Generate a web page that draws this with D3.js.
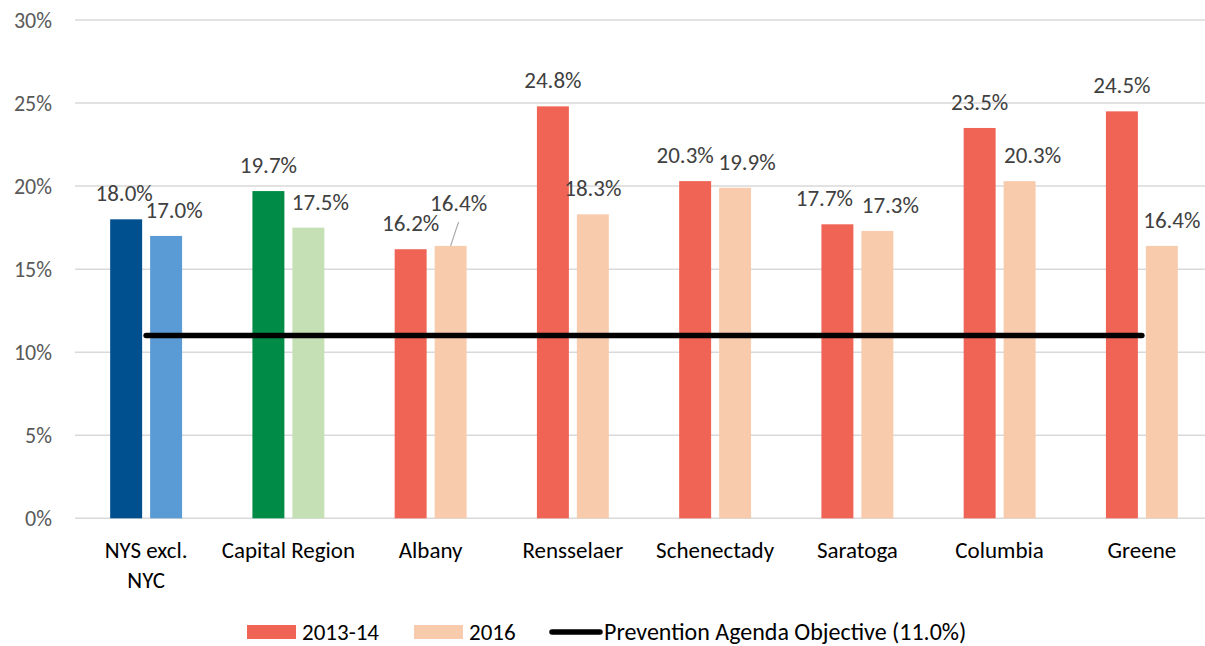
<!DOCTYPE html>
<html>
<head>
<meta charset="utf-8">
<script src="https://cdn.jsdelivr.net/npm/d3@7"></script>
<style>
  body { margin: 0; background: #fff; }
  text { font-family: Carlito, Calibri, Lato, sans-serif; }
</style>
</head>
<body>
<div id="chart"></div>
<script>
// chart values
var categories = ["NYS excl. NYC", "Capital Region", "Albany", "Rensselaer", "Schenectady", "Saratoga", "Columbia", "Greene"];
var series = ["2013-14", "2016"];
var values2013 = [18.0, 19.7, 16.2, 24.8, 20.3, 17.7, 23.5, 24.5];
var values2016 = [17.0, 17.5, 16.4, 18.3, 19.9, 17.3, 20.3, 16.4];
var objective = 11.0;
var yTicks = [0, 5, 10, 15, 20, 25, 30];

// bar colours per group (first pair = state, second = region, rest = counties)
var colors2013 = ["#00508f", "#008c46", "#f06456", "#f06456", "#f06456", "#f06456", "#f06456", "#f06456"];
var colors2016 = ["#5b9bd5", "#c5e0b4", "#f8cbad", "#f8cbad", "#f8cbad", "#f8cbad", "#f8cbad", "#f8cbad"];

// small sideways nudges for the data labels, like the original layout
var labelShift2013 = [-2, 0, 0, 0, -10, -13, 0, 0];
var labelShift2016 = [8, 12, 8, 0, 12, 13, 13, 10];

var width = 1205, height = 646;

var svg = d3.select("#chart").append("svg")
  .attr("width", width)
  .attr("height", height);

var y = d3.scaleLinear()
  .domain([0, 30])
  .range([518.3, 20]);

var x0 = d3.scaleBand()
  .domain(categories)
  .range([75, 1213]);

var x1 = d3.scaleBand()
  .domain(series)
  .range([0, x0.bandwidth()])
  .paddingInner(0.2)
  .paddingOuter(0.88);

// gridlines
svg.append("g")
  .selectAll("line")
  .data(yTicks)
  .enter().append("line")
  .attr("x1", 75)
  .attr("x2", width)
  .attr("y1", function(d){ return y(d); })
  .attr("y2", function(d){ return y(d); })
  .style("stroke", "#d9d9d9")
  .style("stroke-width", 1.5);

// y axis labels
svg.append("g")
  .selectAll("text")
  .data(yTicks)
  .enter().append("text")
  .attr("x", 52)
  .attr("y", function(d){ return y(d); })
  .attr("dy", "0.36em")
  .attr("text-anchor", "end")
  .style("font-size", "22px")
  .style("fill", "#595959")
  .text(function(d){ return d + "%"; });

// build rows for bars
var rows = [];
categories.forEach(function(c, i) {
  rows.push({cat: c, s: series[0], v: values2013[i], color: colors2013[i], shift: labelShift2013[i], i: i});
  rows.push({cat: c, s: series[1], v: values2016[i], color: colors2016[i], shift: labelShift2016[i], i: i});
});

var bars = svg.append("g");
bars.selectAll("rect")
  .data(rows)
  .enter().append("rect")
  .attr("x", function(d){ return x0(d.cat) + x1(d.s); })
  .attr("y", function(d){ return y(d.v); })
  .attr("width", x1.bandwidth())
  .attr("height", function(d){ return y(0) - y(d.v); })
  .style("fill", function(d){ return d.color; });

// data labels
var labelG = svg.append("g");
labelG.selectAll("text")
  .data(rows)
  .enter().append("text")
  .attr("x", function(d){ return x0(d.cat) + x1(d.s) + x1.bandwidth() / 2 + d.shift; })
  .attr("y", function(d){
    var lift = (d.i === 2 && d.s === "2016") ? 35 : 18;
    return y(d.v) - lift;
  })
  .attr("text-anchor", "middle")
  .style("font-size", "23px")
  .style("fill", "#404040")
  .text(function(d){ return d.v.toFixed(1) + "%"; });

// leader line for the raised Albany 2016 label
var albanyX = x0("Albany") + x1("2016") + x1.bandwidth() / 2;
labelG.append("line")
  .attr("x1", albanyX + 8)
  .attr("y1", y(values2016[2]) - 24)
  .attr("x2", albanyX)
  .attr("y2", y(values2016[2]))
  .style("stroke", "#a6a6a6")
  .style("stroke-width", 1.2);

// objective line, across group centres
var firstC = x0(categories[0]) + x0.bandwidth() / 2;
var lastC = x0(categories[categories.length - 1]) + x0.bandwidth() / 2;
svg.append("line")
  .attr("x1", firstC)
  .attr("x2", lastC)
  .attr("y1", y(objective))
  .attr("y2", y(objective))
  .style("stroke", "#000")
  .style("stroke-width", 5.5)
  .style("stroke-linecap", "round");

// category labels (wrapped where needed)
var catLines = {"NYS excl. NYC": ["NYS excl.", "NYC"]};
var xlab = svg.append("g");
categories.forEach(function(c) {
  var lines = catLines[c] || [c];
  var t = xlab.append("text")
    .attr("text-anchor", "middle")
    .style("font-size", "23px")
    .style("fill", "#000");
  lines.forEach(function(l, k) {
    t.append("tspan")
      .attr("x", x0(c) + x0.bandwidth() / 2)
      .attr("y", 558 + k * 30)
      .text(l);
  });
});

// legend
var legend = svg.append("g");
legend.append("rect").attr("x", 247).attr("y", 625).attr("width", 49).attr("height", 14).style("fill", "#f06456");
legend.append("text").attr("x", 302).attr("y", 640).style("font-size", "23px").text("2013-14");
legend.append("rect").attr("x", 414).attr("y", 625).attr("width", 49).attr("height", 14).style("fill", "#f8cbad");
legend.append("text").attr("x", 469).attr("y", 640).style("font-size", "23px").text("2016");
legend.append("line").attr("x1", 552).attr("x2", 600).attr("y1", 632).attr("y2", 632)
  .style("stroke", "#000").style("stroke-width", 5.5).style("stroke-linecap", "round");
legend.append("text").attr("x", 604).attr("y", 640).style("font-size", "24px").text("Prevention Agenda Objective (11.0%)");
</script>
</body>
</html>
